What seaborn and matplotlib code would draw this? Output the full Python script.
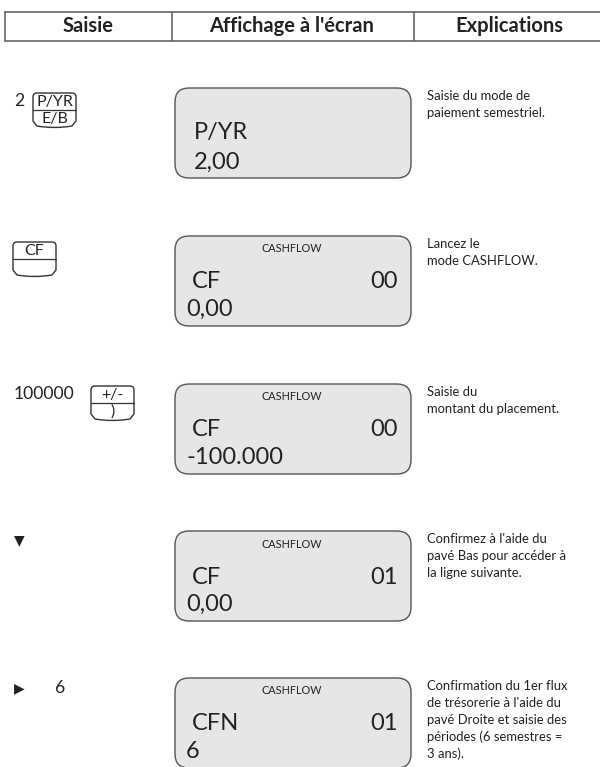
import numpy as np
import matplotlib
matplotlib.use("Agg")
import matplotlib.pyplot as plt
import seaborn as sns
from matplotlib.patches import FancyBboxPatch, PathPatch
from matplotlib.path import Path

sns.set_theme(style="white")
plt.rcParams['font.family'] = ['Lato', 'DejaVu Sans']

# Column headers
headers = ["Saisie", "Affichage à l'écran", "Explications"]

# Left column: typed values and keys
typed = ["2", "", "100000", "\u25BC", "\u25B6"]
typed_extra = ["", "", "", "", "6"]
key_top = ["P/YR", "CF", "+/-", None, None]
key_bottom = ["E/B", "", ")", None, None]

# LCD screen contents
lcd_header = ["", "CASHFLOW", "CASHFLOW", "CASHFLOW", "CASHFLOW"]
lcd_left = ["P/YR", "CF", "CF", "CF", "CFN"]
lcd_right = ["", "00", "00", "01", "01"]
lcd_value = ["2,00", "0,00", "-100.000", "0,00", "6"]

# Explanations
explanations = [
    ["Saisie du mode de", "paiement semestriel."],
    ["Lancez le", "mode CASHFLOW."],
    ["Saisie du", "montant du placement."],
    ["Confirmez à l'aide du", "pavé Bas pour accéder à", "la ligne suivante."],
    ["Confirmation du 1er flux", "de trésorerie à l'aide du",
     "pavé Droite et saisie des", "périodes (6 semestres =", "3 ans)."],
]

# layout (pixels)
row_top = [88, 236, 384, 531, 678]
key_x = [33, 13, 91, None, None]
key_y = [93, 242, 386, None, None]
typed_y = [101, 250, 394, 540, 688]
KEY_W, KEY_H = 43, 34
LCD_X0, LCD_X1, LCD_H = 175, 411, 90
TXT = "#222222"
LCD_FS = 17

fig = plt.figure(figsize=(6, 7.67), dpi=100)
ax = fig.add_axes([0, 0, 1, 1])
ax.set_xlim(0, 600)
ax.set_ylim(767, 0)
ax.axis("off")

# header table
ax.plot([5, 600], [12, 12], color="#666666", lw=1.2)
ax.plot([5, 600], [41, 41], color="#666666", lw=1.2)
for xv in [5, 172, 414]:
    ax.plot([xv, xv], [12, 41], color="#666666", lw=1.2)
for xc, h in zip([88, 292, 509], headers):
    ax.text(xc, 26.5, h, ha="center", va="center", fontsize=14.5,
            fontweight="bold", color=TXT)


def draw_key(x0, y0, top, bottom):
    x1 = x0 + KEY_W
    yb = y0 + KEY_H
    r = 4
    xc = (x0 + x1) / 2
    verts = [(x0, y0 + r), (x0, yb - 6), (x0 + 4, yb - 1), (xc, yb + 2),
             (x1 - 4, yb - 1), (x1, yb - 6), (x1, y0 + r), (x1, y0),
             (x1 - r, y0), (x0 + r, y0), (x0, y0), (x0, y0 + r)]
    codes = [Path.MOVETO, Path.LINETO, Path.LINETO, Path.CURVE3,
             Path.CURVE3, Path.LINETO, Path.LINETO, Path.CURVE3,
             Path.CURVE3, Path.LINETO, Path.CURVE3, Path.CURVE3]
    ax.add_patch(PathPatch(Path(verts, codes), facecolor="white",
                           edgecolor="#333333", lw=1.0))
    ymid = y0 + KEY_H * 0.5
    ax.plot([x0, x1], [ymid, ymid], color="#333333", lw=0.9)
    ax.text(xc, y0 + KEY_H * 0.25 + 0.5, top, ha="center", va="center",
            fontsize=11.5, color=TXT)
    if bottom:
        ax.text(xc, y0 + KEY_H * 0.75, bottom, ha="center", va="center",
                fontsize=11.5, color=TXT)


for i in range(5):
    top = row_top[i]
    # LCD panel
    ax.add_patch(FancyBboxPatch((LCD_X0 + 14, top + 14), LCD_X1 - LCD_X0 - 28,
                                LCD_H - 28,
                                boxstyle="round,pad=14",
                                facecolor="#e5e6e7", edgecolor="#555555",
                                lw=1.0))
    if lcd_header[i]:
        ax.text(292, top + 13, lcd_header[i], ha="center", va="center",
                fontsize=7.8, color=TXT)
        ax.text(192, top + 46, lcd_left[i], ha="left", va="center",
                fontsize=LCD_FS, color=TXT)
        ax.text(398, top + 46, lcd_right[i], ha="right", va="center",
                fontsize=LCD_FS, color=TXT)
        ax.text(186, top + 73, lcd_value[i], ha="left", va="center",
                fontsize=LCD_FS, color=TXT)
    else:
        ax.text(194, top + 45, lcd_left[i], ha="left", va="center",
                fontsize=LCD_FS, color=TXT)
        ax.text(194, top + 74, lcd_value[i], ha="left", va="center",
                fontsize=LCD_FS, color=TXT)

    # left column
    if typed[i]:
        ax.text(14, typed_y[i], typed[i], ha="left", va="center",
                fontsize=12.6 if i < 3 else 10, color=TXT)
    if typed_extra[i]:
        ax.text(55, typed_y[i], typed_extra[i], ha="left", va="center",
                fontsize=12.6, color=TXT)
    if key_top[i] is not None:
        draw_key(key_x[i], key_y[i], key_top[i], key_bottom[i])

    # explanations
    for j, line in enumerate(explanations[i]):
        ax.text(427, top + 8 + j * 17, line, ha="left", va="center",
                fontsize=9.4, color=TXT)

fig.savefig("out.png", dpi=100)
